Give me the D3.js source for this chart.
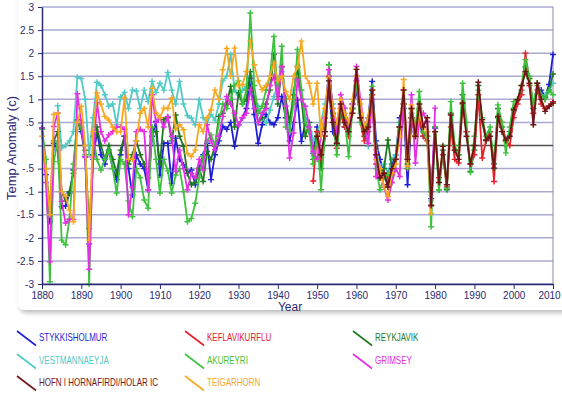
<!DOCTYPE html>
<html>
<head>
<meta charset="utf-8">
<script src="https://cdn.jsdelivr.net/npm/d3@7"></script>
<style>
  body { margin: 0; background: #fff; }
  svg { display: block; font-family: "Liberation Sans", Arial, sans-serif; }
</style>
</head>
<body>
<svg id="chart" width="562" height="394"></svg>
<script>
// ----------------------
// data (temperature anomaly, one value per year)
// ----------------------
const xTicks = [1880, 1890, 1900, 1910, 1920, 1930, 1940, 1950, 1960, 1970, 1980, 1990, 2000, 2010];
const yTicks = [3, 2.5, 2, 1.5, 1, 0.5, 0, -0.5, -1, -1.5, -2, -2.5, -3];
const yTickLabels = ["3", "2.5", "2", "1.5", "1", ".5", "", "-.5", "-1", "-1.5", "-2", "-2.5", "-3"];

// Stykkisholmur: 1880-1980, then 2007-2010
const stykkisholmur = [
  0.38, -0.63, -1.65, 0.05, -0.1, -1.32, -1.31, -1.03, -0.53, 0.56,
  0.3, -0.25, -2.13, -0.3, 0.3, -0.2, -0.4, -0.1, -0.5, -0.74,
  -0.2, 0.2, -0.5, -1.07, -0.2, -0.4, -0.5, -0.96, 0.2, 0.52,
  -0.64, 0.05, 0.05, -0.82, 0.16, -0.3, -0.42, -0.6, -0.53, -0.85,
  -0.49, -0.2, 0.05, -0.74, -0.2, 0.1, 0.41, 0.35, 0.5, -0.02,
  0.45, 0.6, 0.8, 1.46, 0.67, 0.05, 0.45, 0.67, 0.5, 0.45,
  0.6, 1.06, 0.6, 0.1, 0.5, 0.99, 0.09, 0.5, 0.3, -0.17,
  0.4, 0.2, 0.6, 1.2, 0.3, 0.05, 0.7, 0.4, 0.3, 0.8,
  1.2, 0.6, 0.4, 0.6, 1.39, 0.1, -0.3, -0.6, -0.85, -0.4,
  -0.2, 0.6, 0.8, -0.85, 0.6, 0.3, 0.5, 0.2, 0.3, -1.15,
  0.38
];
const stykkisholmurLate = [1.2, 1.05, 1.32, 1.97];

// Keflavikurflu: 1949-2010
const keflavik = [
  -0.77,
  0.3, -0.3, 0.2, 1.5, 0.5, -0.06, 0.7, 0.4, 0.2, 0.8,
  1.4, 0.5, 0.1, 0.3, 1.1, -0.4, -0.7, -0.6, -0.7, -0.6,
  -0.3, 0.4, 0.9, -0.5, 0.6, 0.2, 0.6, 0.2, 0.1, -1.3,
  0.3, -0.7, -0.2, -0.9, 0.4, -0.3, -0.38, 0.9, 0.3, -0.4,
  -0.2, 1.1, -0.27, 0.12, 0.3, -0.78, 0.6, 0.5, 0.1, 0.0,
  0.6, 0.9, 1.1, 2.0, 1.3, 0.7, 1.2, 0.9, 0.8, 0.85,
  0.95
];

// Reykjavik: 1880-2010
const reykjavik = [
  0.35, -0.5, -1.4, 0.1, 0.3, -1.0, -1.2, -1.0, -0.6, 0.5,
  0.35, -0.1, -1.8, -0.2, 0.4, 0.0, -0.3, 0.0, -0.3, -0.6,
  -0.1, 0.2, -0.4, -0.2, 0.1, -0.2, -0.4, -0.7, 0.3, 0.3,
  -0.4, 0.56, 0.6, 0.1, 0.66, 0.2, -0.02, -0.6, -0.85, -0.8,
  -0.5, -0.78, -0.13, -0.3, -0.02, 0.63, 0.7, 0.9, 1.28, 0.4,
  1.14, 0.9, 1.0, 1.6, 1.0, 0.5, 0.6, 0.9, 1.2, 1.97,
  0.9, 1.7, 1.0, 0.5, 1.1, 1.71, 1.0, 0.2, 0.5, -0.3,
  0.3, -0.5, 0.2, 1.75, 0.7, 0.02, 0.8, 0.6, 0.4, 0.9,
  1.5, 0.6, 0.2, 0.4, 1.2, -0.3, -0.6, -0.5, 0.12, -0.5,
  -0.3, 0.4, 0.9, -0.4, 0.6, 0.2, 0.8, 0.3, 0.2, -1.0,
  0.4, -0.96, -0.1, -0.96, 0.7, -0.1, -0.2, 1.1, 0.3, -0.56,
  -0.1, 1.3, 0.5, 0.1, 0.3, -0.4, 0.8, 0.4, 0.1, 0.3,
  0.8, 1.0, 1.2, 1.7, 1.45, 0.8, 1.35, 1.1, 1.0, 1.2,
  1.55
];

// Vestmannaeyja: 1884-1980, then 2007-2010
const vestmannaeyja = [
  0.86, -0.05, 0.0, 0.1, 0.3, 1.48,
  1.45, 1.0, -0.2, 0.6, 1.37, 1.3, 1.1, 0.85, 0.9, 0.45,
  1.05, 1.15, 0.8, 1.2, 1.18, 0.8, 1.2, 0.95, 1.39, 1.15,
  1.35, 1.2, 1.58, 1.2, 0.9, 1.39, 0.9, 0.65, 0.59, 0.45,
  0.99, 0.6, 0.5, 0.67, 0.55, 0.9, 1.4, 1.5, 1.97, 1.2,
  1.1, 1.2, 1.28, 1.5, 1.0, 0.85, 0.6, 0.49, 0.77, 1.06,
  1.3, 1.6, 1.0, 0.3, 1.2, 1.57, 1.2, 0.6, 0.5, 0.1,
  0.3, 0.5, 0.9, 1.4, 0.9, 0.3, 0.9, 0.8, 0.4, 0.9,
  1.3, 0.7, 0.3, -0.02, 1.1, -0.1, -0.5, -0.4, -0.6, -0.3,
  -0.2, 0.5, 0.9, -0.3, 0.7, 0.3, 0.5, 0.3, 0.2, -1.2,
  0.3
];
const vestmannaeyjaLate = [1.05, 1.1, 1.17, 1.35];

// Akureyri: 1880-2010
const akureyri = [
  0.35, -0.3, -2.95, -0.35, 0.1, -2.05, -2.15, -1.59, -0.4, 0.55,
  0.4, -0.2, -3.0, 0.2, -0.3, -0.53, -0.3, -0.1, -0.5, -1.03,
  -0.3, -0.4, -1.2, -1.54, -0.5, -0.7, -1.18, -1.36, 0.4, -0.3,
  -1.03, -0.3, -0.55, -1.03, -0.64, -0.5, -1.0, -1.65, -1.58, -1.25,
  -0.7, -0.24, 0.1, 0.23, 0.0, 0.5, 0.9, 0.8, 1.0, 1.3,
  1.4, 0.9, 1.2, 2.87, 1.3, 0.7, 0.85, 1.2, 1.5, 2.36,
  1.0, 2.15, 0.4, 0.3, 0.9, 2.08, 1.2, 0.5, 0.3, -0.4,
  0.2, -0.96, 0.3, 1.75, 0.6, -0.2, 0.8, 0.6, -0.24, 0.8,
  1.4, 0.5, 0.3, 0.5, 1.28, -0.5, -0.96, -0.7, -0.6, -0.8,
  -0.3, 0.5, 1.0, -0.5, 0.8, 0.4, 1.17, 0.3, 0.2, -1.76,
  0.4, -0.96, 0.0, -0.92, 0.95, 0.0, -0.2, 1.35, 0.5, -0.58,
  0.2, 1.2, 0.6, 0.2, 0.4, -0.5, 0.88, 0.5, -0.16, 0.4,
  0.95, 1.0, 1.3, 1.86, 1.5, 0.9, 1.3, 1.1, 1.0, 1.2,
  1.1
];

// Grimsey: 1880-1980
const grimsey = [
  0.38, -0.8, -2.52, 0.41, 0.7, -1.21, -1.68, -1.6, -1.6, 1.12,
  0.49, -0.25, -2.68, -0.25, 0.93, 0.3, 0.1, 0.23, 0.3, 0.4,
  0.4, 0.35, -1.5, -0.9, 0.3, 0.35, 0.3, -0.96, 1.1, 0.5,
  0.6, 0.4, 0.63, 0.2, -0.56, -0.1, -0.5, -0.96, -0.6, -0.7,
  -0.3, -0.53, 0.45, 0.1, -0.09, 0.2, 0.63, 1.06, 0.9, 0.7,
  0.45, 0.6, 0.7, 1.2, 0.8, 0.5, 0.7, 0.8, 1.3, 1.5,
  1.0, 1.71, 0.85, -0.27, 0.27, 1.43, 1.0, 0.85, 0.4, -0.13,
  -0.3, 0.2, 0.6, 1.64, 0.8, 0.3, 1.1, 0.81, 0.3, 0.9,
  1.71, 1.0, 0.4, 0.05, 1.0, -0.67, -0.5, -0.9, -1.18, -0.8,
  -0.5, -0.67, 1.21, -0.3, 1.1, -0.38, 0.6, 0.7, 0.52, -1.3,
  0.81
];

// Hofn i Hornafirdi / Holar: 1950-2010
const hofn = [
  0.2, -0.2, 0.3, 1.4, 0.5, 0.05, 0.9, 0.5, 0.3, 0.7,
  1.65, 0.6, 0.3, 0.4, 1.2, -0.2, -0.7, -0.6, -0.9, -0.5,
  -0.3, 0.4, 1.2, -0.3, 0.8, 0.2, 0.9, 0.4, 0.6, -1.3,
  0.3, -0.8, -0.02, -0.85, 0.66, -0.1, -0.3, 0.92, 0.2, -0.4,
  0.0, 1.37, 0.56, 0.12, 0.2, -0.49, 0.63, 0.3, 0.12, 0.2,
  0.77, 0.99, 1.3, 1.6, 1.35, 0.45, 1.35, 1.0, 0.74, 0.85,
  0.92
];

// Teigarhorn: 1880-1979
const teigarhorn = [
  0.2, -0.5, -1.5, 0.67, 0.7, -1.0, -1.1, -1.4, -1.65, 0.5,
  0.85, 0.0, -2.05, 0.3, 1.14, 0.9, 0.63, 0.55, 0.4, 0.3,
  0.3, 1.03, -0.3, -0.3, 0.1, 0.7, 0.8, 0.4, 1.24, 0.7,
  0.6, 0.81, 0.8, 1.03, 0.35, 0.45, 0.34, -0.17, -0.24, -0.1,
  0.45, 0.3, 0.6, 0.77, 1.2, 1.0, 1.64, 2.1, 1.5, 2.11,
  1.3, 1.32, 1.6, 2.26, 1.75, 1.4, 1.21, 1.3, 1.5, 1.79,
  1.4, 1.5, 1.17, 1.0, 1.5, 1.7, 2.26, 1.5, 1.35, 0.9,
  1.35, 0.2, 0.8, 1.46, 0.8, 0.5, 0.99, 0.7, 0.5, 1.0,
  1.5, 0.9, 0.41, 0.6, 1.2, -0.31, -0.5, -0.89, -1.1, -0.6,
  -0.4, 0.2, 1.43, -0.45, 0.88, 0.2, 0.7, 0.4, 0.3, -1.47
];

// series: name, colour, segments of [startYear, values]
const seriesList = [
  { name: "STYKKISHOLMUR", color: "#1f1fd6", segs: [[1880, stykkisholmur], [2007, stykkisholmurLate]] },
  { name: "VESTMANNAEYJA", color: "#4fcac4", segs: [[1884, vestmannaeyja], [2007, vestmannaeyjaLate]] },
  { name: "REYKJAVIK", color: "#1e7a1e", segs: [[1880, reykjavik]] },
  { name: "KEFLAVIKURFLU", color: "#e8202a", segs: [[1949, keflavik]] },
  { name: "AKUREYRI", color: "#3dc23d", segs: [[1880, akureyri]] },
  { name: "GRIMSEY", color: "#e52ee5", segs: [[1880, grimsey]] },
  { name: "TEIGARHORN", color: "#f7a81f", segs: [[1880, teigarhorn]] },
  { name: "HOFN I HORNAFIRDI/HOLAR IC", color: "#701515", segs: [[1950, hofn]] }
];

// legend layout order (row by row, 3 columns)
const legendOrder = [
  "STYKKISHOLMUR", "KEFLAVIKURFLU", "REYKJAVIK",
  "VESTMANNAEYJA", "AKUREYRI", "GRIMSEY",
  "HOFN I HORNAFIRDI/HOLAR IC", "TEIGARHORN"
];

// ----------------------
// layout
// ----------------------
const svg = d3.select("#chart");
const navy = "#2a2a72";
const plot = { left: 42, right: 553, top: 7, bottom: 284 };

const x = d3.scaleLinear().domain([1880, 2010]).range([plot.left, plot.right]);
const y = d3.scaleLinear().domain([-3, 3]).range([plot.bottom, plot.top]);

// card with a soft shadow under the plot
const defs = svg.append("defs");
const filt = defs.append("filter").attr("id", "shadow")
    .attr("x", "-5%").attr("y", "-5%").attr("width", "110%").attr("height", "115%");
filt.append("feDropShadow")
    .attr("dx", 2).attr("dy", 3).attr("stdDeviation", 2)
    .attr("flood-color", "#888").attr("flood-opacity", 0.55);

svg.append("rect")
    .attr("x", 18).attr("y", -30)
    .attr("width", 600).attr("height", 340)
    .attr("rx", 6)
    .attr("fill", "#fff")
    .attr("filter", "url(#shadow)");

// gridlines
svg.append("g")
    .selectAll("line")
    .data(yTicks.filter(v => v !== 0))
    .join("line")
    .attr("x1", x(1880)).attr("x2", x(2010))
    .attr("y1", d => y(d)).attr("y2", d => y(d))
    .attr("stroke", "#a9a9d3")
    .attr("stroke-width", 1.5);

// right edge
svg.append("line")
    .attr("x1", x(2010)).attr("x2", x(2010))
    .attr("y1", y(3)).attr("y2", y(-3))
    .attr("stroke", "#8c8ca6").attr("stroke-width", 1);

// zero line
svg.append("line")
    .attr("x1", x(1880)).attr("x2", x(2010))
    .attr("y1", y(0)).attr("y2", y(0))
    .attr("stroke", "#505050").attr("stroke-width", 1.5);

// ----------------------
// series
// ----------------------
const lineGen = d3.line()
    .x(d => x(d.year))
    .y(d => y(d.value));

const plusPath = "M-3,0H3M0,-3V3";

seriesList.forEach(s => {
    const g = svg.append("g");
    s.segs.forEach(([start, vals]) => {
        const pts = vals.map((v, i) => ({ year: start + i, value: v }));
        g.append("path")
            .datum(pts)
            .attr("fill", "none")
            .attr("stroke", s.color)
            .attr("stroke-width", 1.8)
            .attr("stroke-linejoin", "round")
            .attr("d", lineGen);
        g.selectAll(null)
            .data(pts)
            .join("path")
            .attr("d", plusPath)
            .attr("transform", d => `translate(${x(d.year)},${y(d.value)})`)
            .attr("stroke", s.color)
            .attr("stroke-width", 1.4)
            .attr("fill", "none");
    });
});

// ----------------------
// axes
// ----------------------
const yAxisG = svg.append("g")
    .attr("transform", `translate(${plot.left},0)`)
    .call(d3.axisLeft(y)
        .tickValues(yTicks)
        .tickFormat((d, i) => yTickLabels[i])
        .tickSize(4)
        .tickSizeOuter(0)
        .tickPadding(4));

const xAxisG = svg.append("g")
    .attr("transform", `translate(0,${plot.bottom})`)
    .call(d3.axisBottom(x)
        .tickValues(xTicks)
        .tickFormat(d3.format("d"))
        .tickSize(5)
        .tickSizeOuter(0)
        .tickPadding(3));

[yAxisG, xAxisG].forEach(a => {
    a.select(".domain").attr("stroke", navy).attr("stroke-width", 1.5);
    a.selectAll(".tick line").attr("stroke", navy);
    a.selectAll(".tick text")
        .attr("fill", navy)
        .style("font-size", "10px")
        .style("font-family", "'Liberation Sans', Arial, sans-serif");
});

// keep the last year label inside the window
xAxisG.selectAll(".tick text").filter(d => d === 2010).attr("dx", -4);

svg.append("text")
    .attr("transform", "translate(16,148) rotate(-90)")
    .attr("text-anchor", "middle")
    .attr("fill", navy)
    .style("font-size", "13px")
    .text("Temp Anomaly (c)");

svg.append("text")
    .attr("x", 290)
    .attr("y", 311)
    .attr("text-anchor", "middle")
    .attr("fill", navy)
    .style("font-size", "12px")
    .text("Year");

// ----------------------
// legend
// ----------------------
const colX = [17, 185, 353];
const rowY = [341, 364, 386];

const legend = svg.append("g");
legendOrder.forEach((name, i) => {
    const s = seriesList.find(d => d.name === name);
    const lx = colX[i % 3];
    const ly = rowY[Math.floor(i / 3)];
    legend.append("line")
        .attr("x1", lx).attr("y1", ly - 10)
        .attr("x2", lx + 19).attr("y2", ly + 4.5)
        .attr("stroke", s.color)
        .attr("stroke-width", 1.6);
    legend.append("text")
        .attr("transform", `translate(${lx + 22},${ly}) scale(0.8,1)`)
        .attr("fill", s.color)
        .style("font-size", "10px")
        .text(s.name);
});
</script>
</body>
</html>
